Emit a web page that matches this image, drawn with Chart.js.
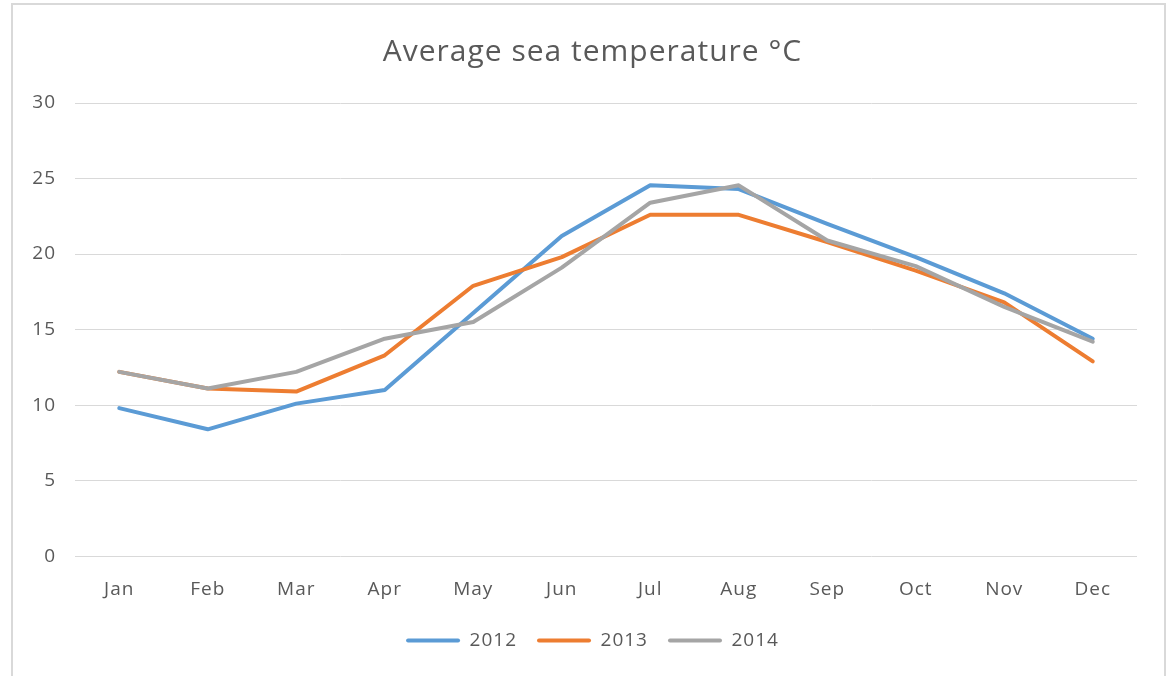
<!DOCTYPE html>
<html>
<head>
<meta charset="utf-8">
<script src="https://cdn.jsdelivr.net/npm/chart.js@4.4.0/dist/chart.umd.min.js"></script>
<style>
  html, body { margin: 0; padding: 0; background: #ffffff; overflow: hidden; }
  #frame { position: absolute; left: 11px; top: 3px; width: 1151px; height: 700px; border: 2px solid #d9d9d9; box-sizing: content-box; }
  #c { position: absolute; left: 0; top: 0; }
</style>
</head>
<body>
<div id="frame"></div>
<canvas id="c" width="1169" height="676"></canvas>
<script>
const months = ['Jan','Feb','Mar','Apr','May','Jun','Jul','Aug','Sep','Oct','Nov','Dec'];
const seriesNames = ['2012','2013','2014'];
const temps2012 = [9.8, 8.4, 10.1, 11.0, 16.1, 21.2, 24.55, 24.3, 22.0, 19.8, 17.4, 14.4];
const temps2013 = [12.2, 11.1, 10.9, 13.3, 17.9, 19.8, 22.6, 22.6, 20.8, 18.9, 16.8, 12.9];
const temps2014 = [12.2, 11.1, 12.2, 14.4, 15.5, 19.1, 23.4, 24.55, 20.9, 19.2, 16.5, 14.2];
const yTicks = [0, 5, 10, 15, 20, 25, 30];
const colors = ['#5B9BD5', '#ED7D31', '#A5A5A5'];

const textColor = '#595959';
const fontFamily = "'Open Sans', 'Liberation Sans', sans-serif";

const seriesData = [temps2012, temps2013, temps2014];
const datasets = seriesData.map((d, i) => ({
  label: seriesNames[i],
  data: d,
  borderColor: colors[i],
  backgroundColor: colors[i],
  borderWidth: 4,
  pointRadius: 0,
  pointHoverRadius: 0,
  tension: 0,
  fill: false,
  borderJoinStyle: 'round',
  borderCapStyle: 'round',
  order: 2 - i
}));

const spacingPlugin = {
  id: 'spacing',
  beforeLayout(chart) { chart.ctx.letterSpacing = '1px'; },
  afterLayout(chart) {
    const shift = 24;
    if (chart.titleBlock) { chart.titleBlock.left += shift; chart.titleBlock.right += shift; }
    if (chart.legend) { chart.legend.left += shift; chart.legend.right += shift; }
  },
  beforeDraw(chart) { chart.ctx.letterSpacing = '1px'; }
};

new Chart(document.getElementById('c'), {
  type: 'line',
  data: { labels: months, datasets: datasets },
  plugins: [spacingPlugin],
  options: {
    responsive: false,
    animation: false,
    devicePixelRatio: 1,
    layout: { padding: { left: 0, right: 32, top: 0, bottom: 16 } },
    plugins: {
      tooltip: { enabled: false },
      title: {
        display: true,
        text: 'Average sea temperature °C',
        color: textColor,
        font: { family: fontFamily, size: 30, weight: 'normal' },
        padding: { top: 34, bottom: 33 }
      },
      legend: {
        display: true,
        position: 'bottom',
        labels: {
          color: textColor,
          font: { family: fontFamily, size: 19 },
          boxWidth: 54,
          boxHeight: 4,
          padding: 20,
          useBorderRadius: true,
          borderRadius: 2,
          generateLabels: (chart) => chart.data.datasets.map((ds, i) => ({
            text: ds.label,
            fillStyle: ds.borderColor,
            strokeStyle: ds.borderColor,
            lineWidth: 0,
            borderRadius: 2,
            fontColor: textColor,
            hidden: false,
            datasetIndex: i
          }))
        }
      }
    },
    scales: {
      x: {
        offset: true,
        grid: { display: false, drawTicks: false },
        border: { display: false },
        ticks: { color: textColor, font: { family: fontFamily, size: 19 }, padding: 22 },
        afterFit: (scale) => { scale.height -= 12; }
      },
      y: {
        min: 0,
        max: 30,
        afterBuildTicks: (scale) => { scale.ticks = yTicks.map(v => ({ value: v })); },
        grid: { color: '#d9d9d9', lineWidth: 1, drawTicks: false },
        border: { display: false },
        ticks: { color: textColor, font: { family: fontFamily, size: 19 }, padding: 19 },
        afterFit: (scale) => { scale.width = 75; }
      }
    }
  }
});
</script>
</body>
</html>
